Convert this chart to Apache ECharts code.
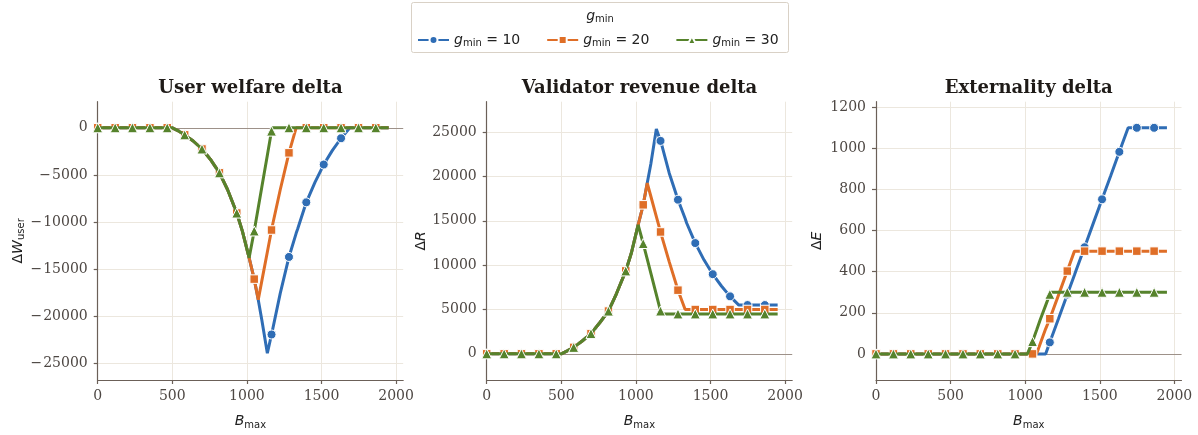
<!DOCTYPE html>
<html><head><meta charset="utf-8">
<script src="https://cdn.jsdelivr.net/npm/echarts/dist/echarts.min.js"></script>
<style>html,body{margin:0;padding:0;background:#fff}#c{width:1198px;height:435px}</style>
</head><body><div id="c"></div>
<script>
// ---- data ----
const X = [0, 117, 233, 350, 466, 500, 540, 583, 640, 699, 760, 816, 870, 932, 970, 1015, 1049, 1076, 1100, 1137, 1165, 1170, 1223, 1282, 1330, 1340, 1398, 1456, 1515, 1573, 1631, 1690, 1748, 1864, 1950];
const markerX = [0, 117, 233, 350, 466, 583, 699, 816, 932, 1049, 1165, 1282, 1398, 1515, 1631, 1748, 1864];
const seriesNames = ['g10', 'g20', 'g30'];
const gminValues = ['10', '20', '30'];
const panelTitles = ['User welfare delta', 'Validator revenue delta', 'Externality delta'];
const xTicks = [0, 500, 1000, 1500, 2000];
const yTicks1 = [-25000, -20000, -15000, -10000, -5000, 0];
const yTicks2 = [0, 5000, 10000, 15000, 20000, 25000];
const yTicks3 = [0, 200, 400, 600, 800, 1000, 1200];

const W_g10 = [0,0,0,0,0,0,-320,-750,-1400,-2250,-3450,-4780,-6550,-9050,-11000,-13800,-16060,-18250,-20400,-23930,-21940,-21590,-17600,-13710,-11200,-10750,-7910,-5800,-3900,-2400,-1110,0,0,0,0];
const W_g20 = [0,0,0,0,0,0,-320,-750,-1400,-2250,-3450,-4780,-6550,-9050,-11000,-13800,-16060,-18250,-16250,-13180,-10850,-10450,-6600,-2660,0,0,0,0,0,0,0,0,0,0,0];
const W_g30 = [0,0,0,0,0,0,-320,-750,-1400,-2250,-3450,-4780,-6550,-9050,-11000,-13800,-10950,-8480,-6290,-2910,-350,0,0,0,0,0,0,0,0,0,0,0,0,0,0];

const R_g10 = [0,0,0,0,0,0,330,730,1450,2280,3560,4820,6800,9350,11400,14540,16800,19260,21400,25340,24010,23750,20400,17380,15250,14750,12490,10600,8980,7650,6480,5500,5500,5500,5500];
const R_g20 = [0,0,0,0,0,0,330,730,1450,2280,3560,4820,6800,9350,11400,14540,16800,19260,17770,15480,13740,13450,10400,7180,5000,5000,5000,5000,5000,5000,5000,5000,5000,5000,5000];
const R_g30 = [0,0,0,0,0,0,330,730,1450,2280,3560,4820,6800,9350,11400,14540,12440,10670,9100,6670,4830,4500,4500,4500,4500,4500,4500,4500,4500,4500,4500,4500,4500,4500,4500];

const E_g10 = [0,0,0,0,0,0,0,0,0,0,0,0,0,0,0,0,0,0,0,0,56,66,171,289,384,404,519,635,752,867,983,1100,1100,1100,1100];
const E_g20 = [0,0,0,0,0,0,0,0,0,0,0,0,0,0,0,0,0,0,48,122,171,181,286,403,500,500,500,500,500,500,500,500,500,500,500];
const E_g30 = [0,0,0,0,0,0,0,0,0,0,0,0,0,0,0,0,60,115,165,236,290,300,300,300,300,300,300,300,300,300,300,300,300,300,300];

// ---- styling ----
const COLORS = ['#2f6db5', '#df6e27', '#56832c'];
const SYMBOLS = ['circle', 'rect', 'triangle'];
const SYMSIZE = [9, 8.5, 10];
const SPINE = '#6b6058';
const GRIDC = '#ece7de';
const TICKC = '#4d4743';
const SERIF = '"DejaVu Serif", serif';
const SANS = '"DejaVu Sans", sans-serif';
const lefts = [97.7, 486.7, 876];
const gw = 305.5, gtop = 101.7, gh = 284.3;
const yRanges = [[-26770, 2770], [-2950, 28430], [-127, 1227]];
const yTickSets = [yTicks1, yTicks2, yTicks3];
const panelData = [[W_g10, W_g20, W_g30], [R_g10, R_g20, R_g30], [E_g10, E_g20, E_g30]];
const yNames = ['{d|Δ}{i|W}{s|user}', '{d|Δ}{i|R}', '{d|Δ}{i|E}'];
const yNameGaps = [70, 58, 52];

const nameRich = {
  d: {fontFamily: SANS, fontSize: 14, color: '#222'},
  i: {fontFamily: SANS, fontStyle: 'italic', fontSize: 14, color: '#222'},
  s: {fontFamily: SANS, fontSize: 10, color: '#222', padding: [7, 0, 0, 0]}
};
const tickRich = {
  m: {fontFamily: SANS, fontSize: 14, color: TICKC, padding: [0, 1, 0, 0]},
  v: {fontFamily: SERIF, fontSize: 14, color: TICKC}
};
const fmtNum = v => (v < 0 ? '{m|\u2212}{v|' + Math.abs(v) + '}' : '{v|' + v + '}');

const grids = [], xAxes = [], yAxes = [], series = [], graphics = [];
for (let p = 0; p < 3; p++) {
  grids.push({left: lefts[p], top: gtop, width: gw, height: gh, containLabel: false});
  xAxes.push({
    type: 'value', gridIndex: p, min: 0, max: 2047.5,
    axisLine: {show: true, onZero: false, lineStyle: {color: SPINE, width: 1.2}},
    axisTick: {show: true, length: 4, customValues: xTicks, lineStyle: {color: SPINE, width: 1.2}},
    axisLabel: {customValues: xTicks, margin: 9, color: TICKC, fontFamily: SERIF, fontSize: 14, formatter: fmtNum, rich: tickRich},
    splitLine: {show: true, lineStyle: {color: GRIDC, width: 1}},
    name: '{i|B}{s|max}', nameLocation: 'middle', nameGap: 33,
    nameTextStyle: {rich: nameRich}
  });
  yAxes.push({
    type: 'value', gridIndex: p, min: yRanges[p][0], max: yRanges[p][1],
    axisLine: {show: true, onZero: false, lineStyle: {color: SPINE, width: 1.2}},
    axisTick: {show: true, length: 4, customValues: yTickSets[p], lineStyle: {color: SPINE, width: 1.2}},
    axisLabel: {customValues: yTickSets[p], margin: 10, color: TICKC, fontFamily: SERIF, fontSize: 14, formatter: fmtNum, rich: tickRich},
    splitLine: {show: true, lineStyle: {color: GRIDC, width: 1}},
    name: yNames[p], nameLocation: 'middle', nameGap: yNameGaps[p], nameRotate: 90,
    nameTextStyle: {rich: nameRich}
  });
  for (let s = 0; s < 3; s++) {
    const ys = panelData[p][s];
    const data = X.map((x, i) => ({value: [x, ys[i]], symbol: markerX.includes(x) ? SYMBOLS[s] : 'none'}));
    const ser = {
      type: 'line', name: seriesNames[s], xAxisIndex: p, yAxisIndex: p, data,
      symbol: SYMBOLS[s], symbolSize: SYMSIZE[s], showSymbol: true, showAllSymbol: true,
      color: COLORS[s],
      lineStyle: {color: COLORS[s], width: 3},
      itemStyle: {color: COLORS[s], borderColor: '#ffffff', borderWidth: 1},
      emphasis: {disabled: true}, animation: false, z: 3 + s
    };
    if (s === 0) {
      ser.markLine = {silent: true, symbol: 'none', z: 1, animation: false,
        label: {show: false}, lineStyle: {color: '#9d9189', width: 1, type: 'solid'},
        data: [{yAxis: 0}]};
    }
    series.push(ser);
  }
  graphics.push({type: 'text', x: lefts[p] + gw / 2, y: 88, z: 10,
    style: {text: panelTitles[p], align: 'center', verticalAlign: 'middle', textAlign: 'center', textVerticalAlign: 'middle',
      font: 'bold 18px "DejaVu Serif"', fill: '#1e1a17'}});
}
// legend frame + title
graphics.push({type: 'rect', shape: {x: 411.5, y: 2.5, width: 377, height: 50, r: 2}, z: 0,
  style: {fill: '#ffffff', stroke: '#d9d1c6', lineWidth: 1}});
graphics.push({type: 'text', x: 600, y: 16, z: 10,
  style: {text: '{i|g}{s|min}', align: 'center', verticalAlign: 'middle', textAlign: 'center', textVerticalAlign: 'middle',
    rich: {i: {fontFamily: SANS, fontStyle: 'italic', fontSize: 14, fill: '#222', color: '#222'},
           s: {fontFamily: SANS, fontSize: 10, fill: '#222', color: '#222', padding: [7, 0, 0, 0]}}}});

const option = {
  animation: false,
  backgroundColor: '#ffffff',
  grid: grids, xAxis: xAxes, yAxis: yAxes, series,
  graphic: graphics,
  legend: {
    data: seriesNames, left: 412, top: 28, orient: 'horizontal',
    itemWidth: 31, itemHeight: 10, itemGap: 26, selectedMode: false,
    formatter: n => '{i|g}{s|min}{n| = ' + gminValues[seriesNames.indexOf(n)] + '}',
    textStyle: {rich: {
      i: {fontFamily: SANS, fontStyle: 'italic', fontSize: 14, color: '#222'},
      s: {fontFamily: SANS, fontSize: 10, color: '#222', padding: [7, 0, 0, 0]},
      n: {fontFamily: SANS, fontSize: 14, color: '#222'}
    }}
  }
};
const chart = echarts.init(document.getElementById('c'), null, {renderer: 'canvas'});
chart.setOption(option);
</script></body></html>
